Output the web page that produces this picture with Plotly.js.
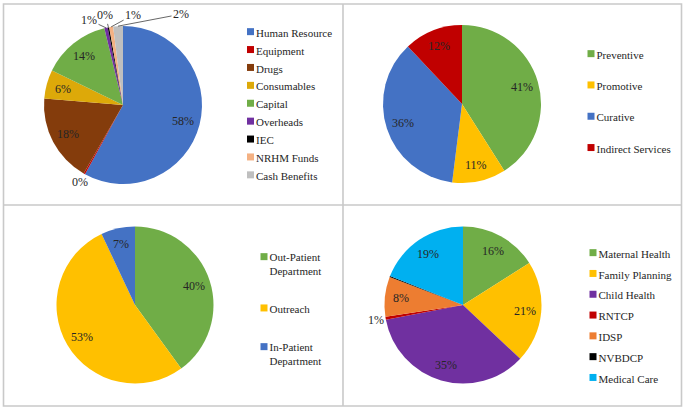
<!DOCTYPE html>
<html>
<head>
<meta charset="utf-8">
<script src="https://cdn.plot.ly/plotly-3.0.1.min.js"></script>
<style>html,body{margin:0;padding:0;background:#fff}</style>
</head>
<body>
<div id="chart" style="width:686px;height:411px"></div>
<script>
// ---- Data ----
const labels1 = ["Human Resource","Equipment","Drugs","Consumables","Capital","Overheads","IEC","NRHM Funds","Cash Benefits"];
const values1 = [58, 0.3, 18, 5.9, 14, 0.7, 0.3, 0.8, 2.0];
const callout1 = ["Overheads","IEC","NRHM Funds","Cash Benefits"];

const labels2 = ["Preventive","Promotive","Curative","Indirect Services"];
const values2 = [41, 11, 36, 12];

const labels3 = ["Out-Patient<br>Department","Outreach","In-Patient<br>Department"];
const values3 = [40, 53, 7];

const labels4 = ["Maternal Health","Family Planning","Child Health","RNTCP","IDSP","NVBDCP","Medical Care"];
const values4 = [16, 21, 35, 0.6, 8.2, 0.2, 19];
const unlabeled4 = ["NVBDCP"];

// ---- Styles ----
const colors1 = ["#4472C4","#C00000","#843C0C","#DDA909","#70AD47","#7030A0","#000000","#F4B183","#BFBFBF"];
const colors2 = ["#70AD47","#FFC000","#4472C4","#C00000"];
const colors3 = ["#70AD47","#FFC000","#4472C4"];
const colors4 = ["#70AD47","#FFC000","#7030A0","#C00000","#ED7D31","#000000","#00B0F0"];
// label offsets (px) for the callout labels of pie 1, in callout1 order
const calloutOffsets = [[-17,-8],[-3,-12],[22,-12],[63,-12]];

const W = 686, H = 411;
function dom(p){ return {x:[(p.cx-p.r)/W,(p.cx+p.r)/W], y:[1-(p.cy+p.r)/H, 1-(p.cy-p.r)/H]}; }

const FONT = "Liberation Serif";
const TXT = "#262626";
const INSIDE_K = 0.79, OUTSIDE_K = 1.12, SMALL = 3;

const P1 = {cx:123, cy:105, r:79};
const P2 = {cx:462, cy:104, r:79};
const P3 = {cx:135, cy:305, r:78.5};
const P4 = {cx:463, cy:305, r:78.5};

function pieTrace(labels, values, colors, p, legendId){
  return {
    type: "pie", labels: labels, values: values, sort: false, direction: "clockwise", rotation: 0,
    marker: {colors: colors, line: {width: 0}},
    domain: dom(p), legend: legendId, textinfo: "none", hoverinfo: "label+percent"
  };
}

const data = [
  pieTrace(labels1, values1, colors1, P1, "legend"),
  pieTrace(labels2, values2, colors2, P2, "legend2"),
  pieTrace(labels3, values3, colors3, P3, "legend3"),
  pieTrace(labels4, values4, colors4, P4, "legend4")
];

// Percentage labels placed along each slice's mid-angle (Excel "best fit" style)
const annotations = [];
function addLabels(labels, values, p, hidden, callouts){
  const total = values.reduce((a,b)=>a+b,0);
  let cum = 0;
  values.forEach(function(v,i){
    const mid = (cum + v/2)/total; cum += v;
    if(hidden && hidden.includes(labels[i])) return;
    const th = mid*2*Math.PI, s = Math.sin(th), c = Math.cos(th);
    const txt = Math.round(v/total*100) + "%";
    const font = {family: FONT, size: 12, color: TXT};
    const k = callouts ? callouts.indexOf(labels[i]) : -1;
    if(k >= 0){
      const px = p.cx + p.r*s, py = p.cy - p.r*c;
      annotations.push({xref:"paper", yref:"paper", x: px/W, y: 1-py/H, text: txt,
        xanchor: "center", yanchor: "middle",
        showarrow: true, arrowhead: 0, arrowwidth: 0.8, arrowcolor: "#404040",
        ax: calloutOffsets[k][0], ay: calloutOffsets[k][1], standoff: 0, startstandoff: 0, font: font});
      return;
    }
    const kk = (v/total*100 < SMALL) ? OUTSIDE_K : INSIDE_K;
    const px = p.cx + kk*p.r*s, py = p.cy - kk*p.r*c;
    annotations.push({xref:"paper", yref:"paper", x: px/W, y: 1-py/H, text: txt,
      xanchor: "center", yanchor: "middle", showarrow: false, font: font});
  });
}
addLabels(labels1, values1, P1, null, callout1);
addLabels(labels2, values2, P2);
addLabels(labels3, values3, P3);
addLabels(labels4, values4, P4, unlabeled4);

function leg(x, y){
  return {x: x/W, y: 1-y/H, xanchor: "left", yanchor: "top", bgcolor: "rgba(0,0,0,0)",
    font: {family: FONT, size: 11, color: TXT}, itemclick: false, itemdoubleclick: false, valign: "top"};
}

const lineStyle = {color: "#C9C9C9", width: 1.6};
const layout = {
  width: W, height: H, margin: {l:0, r:0, t:0, b:0},
  font: {family: FONT, color: TXT},
  paper_bgcolor: "#fff", plot_bgcolor: "#fff", showlegend: true,
  legend: leg(216, 18),
  legend2: leg(556.5, 40),
  legend3: leg(229.5, 243),
  legend4: leg(558.5, 239),
  annotations: annotations,
  shapes: [
    {type:"rect", xref:"paper", yref:"paper", x0:3.5/W, x1:681.5/W, y0:1-406/H, y1:1-4/H, line: lineStyle},
    {type:"line", xref:"paper", yref:"paper", x0:343/W, x1:343/W, y0:1-406/H, y1:1-4/H, line: lineStyle},
    {type:"line", xref:"paper", yref:"paper", x0:3.5/W, x1:681.5/W, y0:1-205/H, y1:1-205/H, line: lineStyle}
  ]
};

const gaps = {legend: 17.9, legend2: 31.3, legend3: 45, legend4: 20.8};

Plotly.newPlot("chart", data, layout, {displayModeBar: false, staticPlot: true}).then(function(){
  Object.keys(gaps).forEach(function(id){
    const g = document.querySelector("g." + id);
    if(!g) return;
    const sb = g.querySelector(".scrollbox");
    if(sb) sb.removeAttribute("clip-path");
    const items = g.querySelectorAll("g.traces");
    let y0 = null;
    items.forEach(function(it, i){
      const m = /translate\(\s*([-\d.]+)[ ,]+([-\d.]+)\s*\)/.exec(it.getAttribute("transform") || "");
      const x = m ? parseFloat(m[1]) : 0;
      const y = m ? parseFloat(m[2]) : 0;
      if(y0 === null) y0 = y;
      it.setAttribute("transform", "translate(" + x + "," + (y0 + i*gaps[id]) + ")");
    });
    g.querySelectorAll("path.legendpie").forEach(function(p){
      p.setAttribute("d", "M3.5,3.5H-3.5V-3.5H3.5Z");
      p.setAttribute("transform", "translate(34.5,0)");
    });
  });
});
</script>
</body>
</html>
